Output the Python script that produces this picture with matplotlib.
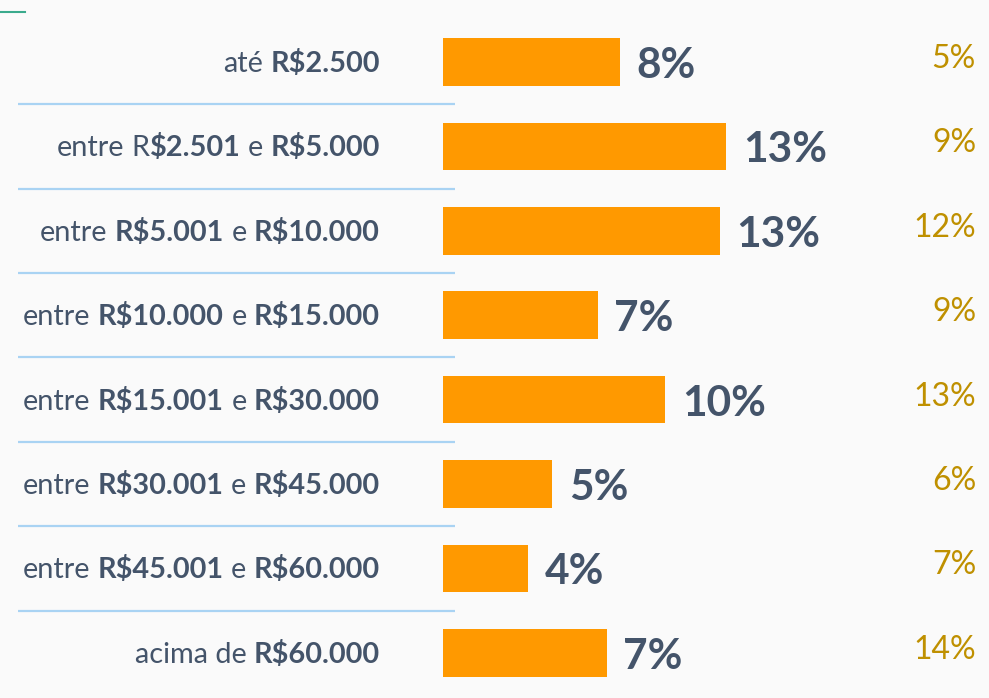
import matplotlib
matplotlib.use("Agg")
import matplotlib.pyplot as plt
import matplotlib.transforms as mtransforms

# ---- data ----
# each label is a list of (text, weight, attaches_to_next_without_space)
label_pieces = [
    [("até", "normal", False), ("R$2.500", "bold", False)],
    [("entre", "normal", False), ("R", "normal", True), ("$2.501", "bold", False), ("e", "normal", False), ("R$5.000", "bold", False)],
    [("entre", "normal", False), ("R$5.001", "bold", False), ("e", "normal", False), ("R$10.000", "bold", False)],
    [("entre", "normal", False), ("R$10.000", "bold", False), ("e", "normal", False), ("R$15.000", "bold", False)],
    [("entre", "normal", False), ("R$15.001", "bold", False), ("e", "normal", False), ("R$30.000", "bold", False)],
    [("entre", "normal", False), ("R$30.001", "bold", False), ("e", "normal", False), ("R$45.000", "bold", False)],
    [("entre", "normal", False), ("R$45.001", "bold", False), ("e", "normal", False), ("R$60.000", "bold", False)],
    [("acima de", "normal", False), ("R$60.000", "bold", False)],
]
bar_values = [8.1, 13.0, 12.7, 7.1, 10.2, 5.0, 3.9, 7.5]
bar_labels = ["8%", "13%", "13%", "7%", "10%", "5%", "4%", "7%"]
right_labels = ["5%", "9%", "12%", "9%", "13%", "6%", "7%", "14%"]

# ---- style ----
FONT = "Lato"
TEXT_COLOR = "#44546a"
BAR_COLOR = "#ff9900"
GOLD = "#bf9000"
SEP_COLOR = "#a9d3f3"
W, H = 989, 698

fig = plt.figure(figsize=(W / 100, H / 100), dpi=100)
fig.patch.set_facecolor("#fafafa")

px_per_unit = 21.8
row_h = 84.4
first_center = 62
ax = fig.add_axes([443 / W, 0, (W - 443) / W, 1])
ax.set_xlim(0, (W - 443) / px_per_unit)
ax.set_ylim((H - first_center) / row_h, -first_center / row_h)
ax.axis("off")
ax.patch.set_alpha(0)

n = len(bar_values)
ys = list(range(n))
ax.barh(ys, bar_values, height=0.565, color=BAR_COLOR, edgecolor="none")

for y, v, lab in zip(ys, bar_values, bar_labels):
    ax.annotate(lab, xy=(v, y), xytext=(12.0, -11.5), textcoords="offset points",
                ha="left", va="baseline", fontsize=30.5, fontweight="bold",
                color=TEXT_COLOR, family=FONT)

blend = mtransforms.blended_transform_factory(fig.transFigure, ax.transData)

# right column
for y, lab in zip(ys, right_labels):
    fig.text(976 / W, y, lab,
             transform=blend + mtransforms.ScaledTranslation(0, -6 / 100, fig.dpi_scale_trans),
             ha="right", va="baseline", fontsize=23, color=GOLD, family=FONT)

# separator lines
for i in range(n - 1):
    ax.plot([18 / W, 455 / W], [i + 0.5, i + 0.5], transform=blend, color=SEP_COLOR,
            lw=1.6, clip_on=False, solid_capstyle="butt")

# small green mark top-left
fig.add_artist(plt.Line2D([0, 25 / W], [1 - 12 / H, 1 - 12 / H], color="#3aaa8c", lw=1.5))

# left labels with mixed weights, laid out right-to-left
renderer = fig.canvas.get_renderer()
LFS = 20.8
tmp = fig.text(0, 0, "a a", fontsize=LFS, family=FONT)
w1 = tmp.get_window_extent(renderer).width
tmp.set_text("aa")
w2 = tmp.get_window_extent(renderer).width
tmp.remove()
space_px = w1 - w2

for y, pieces in zip(ys, label_pieces):
    x_px = 380.0
    for i in range(len(pieces) - 1, -1, -1):
        txt, weight, _ = pieces[i]
        tr = blend + mtransforms.ScaledTranslation(0, -10 / 100, fig.dpi_scale_trans)
        t = fig.text(x_px / W, y, txt, transform=tr, ha="right", va="baseline",
                     fontsize=LFS, fontweight=weight, color=TEXT_COLOR, family=FONT)
        x_px -= t.get_window_extent(renderer).width
        if i > 0 and not pieces[i - 1][2]:
            x_px -= space_px

fig.savefig("out.png", dpi=100, facecolor=fig.get_facecolor())
